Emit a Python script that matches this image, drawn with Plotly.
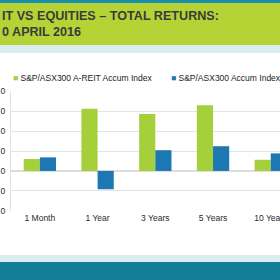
import plotly.graph_objects as go

categories = ["1 Month", "1 Year", "3 Years", "5 Years", "10 Years"]
series_names = ["S&P/ASX300 A-REIT Accum Index", "S&P/ASX300 Accum Index"]
areit = [3.0, 15.6, 14.3, 16.5, 2.8]
asx = [3.4, -4.6, 5.2, 6.2, 4.4]
title_lines = ["IT VS EQUITIES \u2013 TOTAL RETURNS:", "0 APRIL 2016"]
colors = ["#a6cf3c", "#1c77b3"]

W, H = 280, 280
L, R, T, B = 11, 0, 91, 69
PW, PH = W - L - R, H - T - B

def px(x):
    return (x - L) / PW

def py(y):
    return (H - B - y) / PH

fig = go.Figure()
for name, vals, c in zip(series_names, [areit, asx], colors):
    fig.add_trace(go.Bar(x=categories, y=vals, name=name, marker_color=c,
                         marker_line_width=0, showlegend=False))

shapes = []
def band(y0, y1, color):
    shapes.append(dict(type="rect", xref="paper", yref="paper",
                       x0=px(0), x1=px(W), y0=py(y1), y1=py(y0),
                       fillcolor=color, line_width=0, layer="below"))

band(0, 3, "#1a8fae")
band(3, 45, "#b5d335")
band(45, 53, "#dcedf2")
band(255, 262, "#dcedf2")
band(262, 280, "#127e98")

annotations = [
    dict(xref="paper", yref="paper", x=px(0), y=py(16), xanchor="left", yanchor="middle",
         text="<b>" + title_lines[0] + "</b>", showarrow=False,
         font=dict(family="Liberation Sans", size=12.6, color="#3b3b3b")),
    dict(xref="paper", yref="paper", x=px(0), y=py(32), xanchor="left", yanchor="middle",
         text="<b>" + title_lines[1] + "</b>", showarrow=False,
         font=dict(family="Liberation Sans", size=12.6, color="#3b3b3b")),
]
leg_x = [11, 169]
for name, c, lx in zip(series_names, colors, leg_x):
    annotations.append(dict(
        xref="paper", yref="paper", x=px(lx), y=py(78), xanchor="left", yanchor="middle",
        text="<span style='color:%s'>\u25a0</span> %s" % (c, name.replace("&", "&amp;")),
        showarrow=False, font=dict(family="Liberation Sans", size=8.5, color="#222222")))

fig.update_layout(
    width=W, height=H,
    margin=dict(l=L, r=R, t=T, b=B, autoexpand=False),
    paper_bgcolor="white", plot_bgcolor="white",
    barmode="group", bargap=0.44, bargroupgap=0,
    shapes=shapes, annotations=annotations,
    font=dict(family="Liberation Sans", size=8, color="#333333"),
)
fig.update_xaxes(range=[-0.5, 4.16], showgrid=False, showline=False, ticks="",
                 tickfont=dict(size=8.5, color="#2a2a2a"), automargin=False)
fig.update_yaxes(range=[-10.05, 20.05], dtick=5, tickformat=".1f",
                 showgrid=True, gridcolor="#e4e4e4", zeroline=True, zerolinecolor="#dddddd",
                 showline=True, linecolor="#e0e0e0", ticks="",
                 tickfont=dict(size=8.5, color="#2a2a2a"), automargin=False,
                 ticklabelstandoff=3)

fig.write_html("out.html")
